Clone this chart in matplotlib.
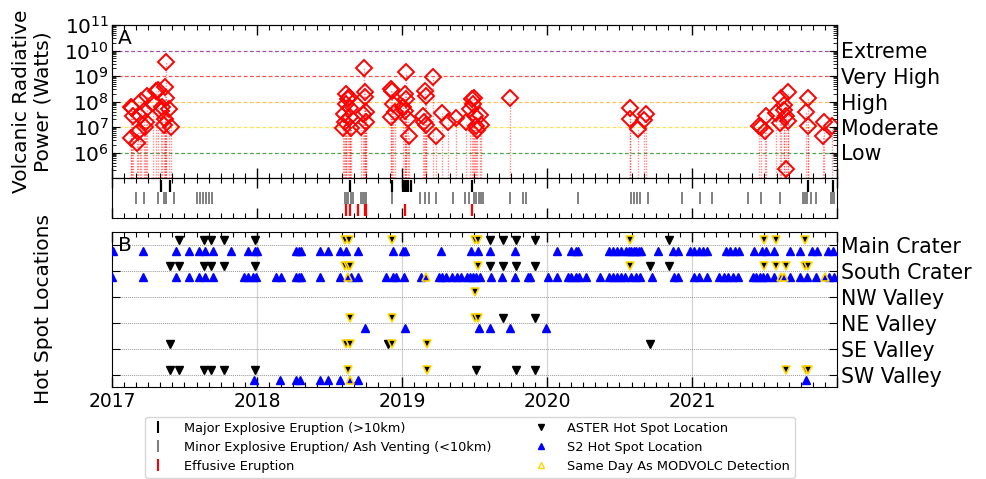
import numpy as np
import matplotlib
matplotlib.use("Agg")
import matplotlib.pyplot as plt
from matplotlib.lines import Line2D
from matplotlib.ticker import LogLocator, NullFormatter, FixedLocator

# ---------------- data (decimal years) ----------------
vrp_dates = [2017.129, 2017.138, 2017.145, 2017.134, 2017.175, 2017.179, 2017.196, 2017.203,
             2017.221, 2017.244, 2017.237, 2017.226, 2017.283, 2017.306, 2017.317, 2017.336,
             2017.345, 2017.363, 2017.359, 2017.368, 2017.370, 2017.391, 2017.405, 2017.372,
             2018.593, 2018.605, 2018.617, 2018.628, 2018.612, 2018.639, 2018.600, 2018.644,
             2018.651, 2018.634, 2018.720, 2018.731, 2018.743, 2018.745, 2018.750, 2018.754,
             2018.741, 2018.927, 2018.934, 2018.938, 2018.925, 2018.950,
             2019.026, 2019.019, 2019.030, 2019.024, 2019.041, 2019.046, 2019.007, 2019.157,
             2019.168, 2019.145, 2019.155, 2019.166, 2019.214, 2019.232, 2019.279, 2019.317,
             2019.370, 2019.444, 2019.467, 2019.486, 2019.490, 2019.494, 2019.501, 2019.513,
             2019.517, 2019.541, 2019.548, 2019.743,
             2020.570, 2020.575, 2020.628, 2020.667, 2020.686,
             2021.462, 2021.479, 2021.508, 2021.501, 2021.582, 2021.605, 2021.617, 2021.632,
             2021.636, 2021.662, 2021.651, 2021.665, 2021.646, 2021.800, 2021.784, 2021.802,
             2021.908, 2021.903, 2021.968]
vrp_log10 = [7.77, 7.73, 7.42, 6.56, 6.38, 6.80, 7.42, 8.03,
             7.64, 8.22, 7.20, 6.99, 7.96, 8.42, 8.45, 7.64,
             7.77, 7.30, 7.08, 8.55, 8.13, 7.70, 6.99, 9.55,
             6.95, 7.18, 8.29, 8.09, 7.90, 7.73, 7.50, 7.38,
             6.95, 8.16, 6.99, 7.50, 8.38, 8.16, 7.18, 7.60,
             9.32, 8.48, 8.42, 7.90, 7.38, 7.60,
             9.17, 8.29, 8.09, 7.64, 7.31, 6.66, 7.77, 8.42,
             8.22, 7.44, 7.18, 7.08, 8.97, 6.66, 7.56, 7.18,
             7.34, 7.18, 7.70, 8.09, 7.90, 8.15, 7.44, 7.05,
             6.87, 7.47, 7.08, 8.13,
             7.32, 7.74, 6.91, 7.26, 7.52,
             7.05, 6.99, 7.42, 6.86, 7.55, 7.16, 8.12, 7.86,
             7.65, 8.38, 7.44, 7.25, 5.34, 8.13, 7.57, 7.05,
             7.18, 6.66, 7.03]

level_names = ["Low", "Moderate", "High", "Very High", "Extreme"]
level_values = [1e6, 1e7, 1e8, 1e9, 1e10]
level_colors = ["green", "gold", "orange", "red", "purple"]

major_eruptions = [2017.336, 2017.398, 2018.644, 2018.934, 2019.007, 2019.019, 2019.030,
                   2019.040, 2019.065, 2019.486, 2021.800, 2021.973]
minor_eruptions = [2017.163, 2017.218, 2017.317, 2017.357, 2017.364, 2017.371, 2017.426,
                   2017.589, 2017.605, 2017.625, 2017.646, 2017.667, 2017.692, 2018.605,
                   2018.618, 2018.630, 2018.645, 2018.660, 2018.720, 2018.731, 2018.742,
                   2018.754, 2018.934, 2019.122, 2019.157, 2019.186, 2019.237, 2019.352,
                   2019.432, 2019.462, 2019.500, 2019.513, 2019.528, 2019.543, 2019.559,
                   2019.743, 2019.834, 2019.853, 2020.214, 2020.582, 2020.600, 2020.620,
                   2020.640, 2020.697, 2020.934, 2021.053, 2021.141, 2021.386, 2021.479,
                   2021.610, 2021.766, 2021.780, 2021.793, 2021.823, 2021.858, 2021.960,
                   2021.968, 2021.977]
effusive_eruptions = [2018.617, 2018.639, 2018.697, 2018.743, 2018.750, 2019.019, 2019.486]

locations = ["Main Crater", "South Crater", "NW Valley", "NE Valley", "SE Valley", "SW Valley"]

aster = {
    "Main Crater": [2017.460, 2017.634, 2017.681, 2017.770, 2017.986, 2019.610, 2019.697,
                    2019.784, 2019.920, 2020.840],
    "South Crater": [2017.398, 2017.460, 2017.634, 2017.681, 2017.770, 2017.986, 2019.610,
                     2019.697, 2019.784, 2019.920, 2020.709, 2020.840],
    "NW Valley": [],
    "NE Valley": [2019.697, 2019.920],
    "SE Valley": [2017.398, 2018.906, 2020.709],
    "SW Valley": [2017.398, 2017.460, 2017.634, 2017.681, 2017.770, 2017.986, 2019.513,
                  2019.784, 2019.920],
}
aster_modvolc = {
    "Main Crater": [2018.605, 2018.634, 2018.934, 2019.501, 2019.522, 2020.575, 2021.494,
                    2021.582, 2021.777],
    "South Crater": [2018.605, 2018.628, 2018.644, 2019.524, 2020.575, 2021.494, 2021.582,
                     2021.651, 2021.777, 2021.800],
    "NW Valley": [2019.501],
    "NE Valley": [2018.644, 2018.934, 2019.501, 2019.524],
    "SE Valley": [2018.617, 2018.639, 2018.934, 2019.172],
    "SW Valley": [2018.628, 2019.172, 2021.651, 2021.784, 2021.800],
}
s2 = {
    "Main Crater": [2017.007, 2017.214, 2017.439, 2017.531, 2017.600, 2017.641, 2017.697,
                    2017.819, 2017.938, 2017.984, 2018.000, 2018.272, 2018.288, 2018.301,
                    2018.432, 2018.490, 2018.570, 2018.617, 2018.697, 2018.938, 2019.007,
                    2019.023, 2019.272, 2019.474, 2019.524, 2019.610, 2019.777, 2020.069,
                    2020.168, 2020.198, 2020.214, 2020.428, 2020.455, 2020.483, 2020.513,
                    2020.548, 2020.566, 2020.582, 2020.598, 2020.617, 2020.634, 2020.651,
                    2020.766, 2020.869, 2020.903, 2020.984, 2021.012, 2021.048, 2021.076,
                    2021.103, 2021.237, 2021.265, 2021.294, 2021.324, 2021.426, 2021.486,
                    2021.508, 2021.563, 2021.679, 2021.743, 2021.830, 2021.862, 2021.938,
                    2021.972],
    "South Crater": [2017.003, 2017.214, 2017.439, 2017.531, 2017.600, 2017.641, 2017.697,
                     2017.908, 2017.938, 2017.972, 2017.996, 2018.129, 2018.168, 2018.272,
                     2018.290, 2018.306, 2018.432, 2018.570, 2018.651, 2018.697, 2018.892,
                     2018.938, 2018.957, 2019.012, 2019.134, 2019.255, 2019.279, 2019.306,
                     2019.348, 2019.379, 2019.410, 2019.448, 2019.467, 2019.490, 2019.513,
                     2019.536, 2019.617, 2019.692, 2019.777, 2019.869, 2019.886, 2020.007,
                     2020.069, 2020.145, 2020.168, 2020.198, 2020.221, 2020.272, 2020.363,
                     2020.428, 2020.455, 2020.483, 2020.513, 2020.536, 2020.582, 2020.612,
                     2020.639, 2020.727, 2020.874, 2020.903, 2021.012, 2021.048, 2021.103,
                     2021.186, 2021.219, 2021.248, 2021.283, 2021.317, 2021.421, 2021.444,
                     2021.467, 2021.490, 2021.517, 2021.563, 2021.679, 2021.743, 2021.793,
                     2021.858, 2021.945, 2021.977],
    "NW Valley": [],
    "NE Valley": [2018.748, 2019.023, 2019.531, 2019.610, 2019.748, 2019.996],
    "SE Valley": [],
    "SW Valley": [2017.979, 2018.161, 2018.272, 2018.294, 2018.432, 2018.490, 2018.570,
                  2018.697, 2021.789],
}
s2_modvolc = {
    "Main Crater": [],
    "South Crater": [2018.628, 2019.163, 2021.617, 2021.632, 2021.915],
    "NW Valley": [],
    "NE Valley": [],
    "SE Valley": [],
    "SW Valley": [2018.639],
}

# ---------------- figure ----------------
W, H = 987, 479
fig = plt.figure(figsize=(W / 100, H / 100), dpi=100)

def fx(px):
    return px / W

def fy(py):
    return 1 - py / H

left, right = 112, 837
axA = fig.add_axes([fx(left), fy(178), fx(right - left), fy(25) - fy(178)])
axS = fig.add_axes([fx(left), fy(218), fx(right - left), fy(178) - fy(218)])
axB = fig.add_axes([fx(left), fy(387), fx(right - left), fy(232) - fy(387)])

years = [2017, 2018, 2019, 2020, 2021, 2022]
months = [2017 + k / 12 for k in range(61)]
XFS = 13.5   # x tick labels
YFS = 14.5   # left log tick labels
RFS = 14.8   # right category labels
LFS = 14.5   # axis labels

def time_axis(ax, labels=False):
    ax.set_xlim(2017, 2022)
    ax.xaxis.set_major_locator(FixedLocator(years))
    ax.xaxis.set_minor_locator(FixedLocator(months))
    ax.tick_params(axis="x", which="both", direction="in", top=True, bottom=True)
    ax.tick_params(axis="x", which="major", length=7, width=1)
    ax.tick_params(axis="x", which="minor", length=3.5, width=0.8)
    if labels:
        ax.set_xticklabels([str(y) for y in years[:-1]] + [""], fontsize=XFS)
    else:
        ax.tick_params(axis="x", labelbottom=False)

# ---- Panel A ----
power = 10 ** np.array(vrp_log10)
axA.set_yscale("log")
axA.set_ylim(1e5, 1e11)
for v, c in zip(level_values, level_colors):
    axA.axhline(v, color=c, ls=(0, (3, 2)), lw=0.9, alpha=0.7, zorder=1)
axA.vlines(vrp_dates, 1e5, power, colors="red", linestyles=(0, (1, 1)), lw=1, alpha=0.45, zorder=2)
axA.plot(vrp_dates, power, ls="none", marker="D", ms=7.8, mfc="none", mec="red", mew=1.4, zorder=3)
time_axis(axA)
axA.set_yticks([1e6, 1e7, 1e8, 1e9, 1e10, 1e11])
axA.set_yticklabels([r"$10^{6}$", r"$10^{7}$", r"$10^{8}$", r"$10^{9}$", r"$10^{10}$", r"$10^{11}$"],
                    fontsize=YFS)
axA.yaxis.set_minor_locator(LogLocator(base=10, subs=np.arange(2, 10), numticks=20))
axA.yaxis.set_minor_formatter(NullFormatter())
axA.tick_params(axis="y", which="both", direction="in", left=True, right=False, pad=2)
axA.tick_params(axis="y", which="major", length=6)
axA.tick_params(axis="y", which="minor", length=3, width=0.6)
axA.text(0.008, 0.975, "A", transform=axA.transAxes, va="top", ha="left", fontsize=LFS)
axA.set_ylabel("Volcanic Radiative\nPower (Watts)", fontsize=LFS)

axR = axA.twinx()
axR.set_yscale("log")
axR.set_ylim(1e5, 1e11)
axR.set_yticks(level_values)
axR.set_yticklabels(level_names, fontsize=RFS)
axR.yaxis.set_minor_locator(LogLocator(base=10, subs=np.arange(2, 10), numticks=20))
axR.yaxis.set_minor_formatter(NullFormatter())
axR.tick_params(axis="y", which="both", direction="in", pad=3)
axR.tick_params(axis="y", which="major", length=6)
axR.tick_params(axis="y", which="minor", length=3, width=0.6)

# ---- eruption strip ----
axS.plot(major_eruptions, [3] * len(major_eruptions), ls="none", marker="|", ms=8, mew=1.6, color="black")
axS.plot(minor_eruptions, [2] * len(minor_eruptions), ls="none", marker="|", ms=8, mew=1.4, color="grey")
axS.plot(effusive_eruptions, [1] * len(effusive_eruptions), ls="none", marker="|", ms=8, mew=1.6, color="red")
axS.set_ylim(0.333, 3.667)
axS.set_yticks([])
time_axis(axS)

# ---- Panel B ----
nrow = len(locations)
row_y = {loc: nrow - 1 - i for i, loc in enumerate(locations)}
dy = 0.2
for loc in locations:
    axB.axhline(row_y[loc], color="grey", ls=(0, (1, 1)), lw=0.7, alpha=0.8, zorder=1)
for yv in years[1:-1]:
    axB.axvline(yv, color="lightgrey", lw=0.9, zorder=0)
for loc in locations:
    y = row_y[loc]
    d = aster[loc]
    axB.plot(d, [y + dy] * len(d), ls="none", marker="v", ms=5.8, color="black", zorder=3)
    d = aster_modvolc[loc]
    axB.plot(d, [y + dy] * len(d), ls="none", marker="v", ms=5.8, mfc="black", mec="gold", mew=1.2, zorder=4)
    d = s2[loc]
    axB.plot(d, [y - dy] * len(d), ls="none", marker="^", ms=5.8, color="blue", zorder=3)
    d = s2_modvolc[loc]
    axB.plot(d, [y - dy] * len(d), ls="none", marker="^", ms=5.8, mfc="blue", mec="gold", mew=1.2, zorder=4)
axB.set_ylim(-0.47, nrow - 1 + 0.52)
axB.set_yticks([row_y[l] for l in locations])
axB.set_yticklabels(locations, fontsize=RFS)
axB.tick_params(axis="y", direction="in", left=True, right=True, labelleft=False, labelright=True,
                length=6, pad=3)
time_axis(axB, labels=True)
axB.text(0.008, 0.975, "B", transform=axB.transAxes, va="top", ha="left", fontsize=LFS)
axB.set_ylabel("Hot Spot Locations", fontsize=LFS)

axA.yaxis.set_label_coords(-0.082, 0.5)
axB.yaxis.set_label_coords(-0.082, 0.5)

# ---- legend ----
handles = [
    Line2D([], [], ls="none", marker="|", ms=8, mew=1.5, color="black"),
    Line2D([], [], ls="none", marker="|", ms=8, mew=1.5, color="grey"),
    Line2D([], [], ls="none", marker="|", ms=8, mew=1.5, color="red"),
    Line2D([], [], ls="none", marker="v", ms=5, color="black"),
    Line2D([], [], ls="none", marker="^", ms=5, color="blue"),
    Line2D([], [], ls="none", marker="^", ms=5, mfc="none", mec="gold", mew=1),
]
labels = ["Major Explosive Eruption (>10km)", "Minor Explosive Eruption/ Ash Venting (<10km)",
          "Effusive Eruption", "ASTER Hot Spot Location", "S2 Hot Spot Location",
          "Same Day As MODVOLC Detection"]
fig.legend(handles, labels, ncol=2, loc="lower center", bbox_to_anchor=(fx(470), 0.0),
           fontsize=9.3, handlelength=1.2, handletextpad=1.4, columnspacing=3.2,
           labelspacing=0.45, borderpad=0.4, borderaxespad=0.1, frameon=True)

fig.savefig("out.png", dpi=100)
